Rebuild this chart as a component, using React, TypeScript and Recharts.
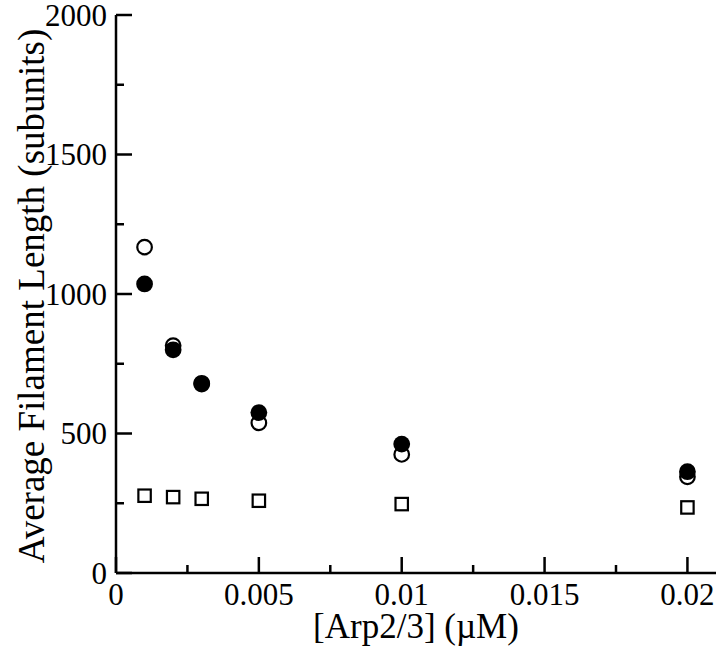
import React from 'react';
import { ScatterChart, Scatter, XAxis, YAxis } from 'recharts';

// [Arp2/3] concentrations (uM)
const arpConc = [0.001, 0.002, 0.003, 0.005, 0.01, 0.02];
// average filament length (subunits)
const openCircleLen = [1168, 815, 680, 538, 425, 345];
const filledCircleLen = [1036, 800, 677, 575, 462, 363];
const squareLen = [277, 272, 266, 259, 247, 235];

const xMajorTicks = [0, 0.005, 0.01, 0.015, 0.02];
const xMinorTicks = [0.0025, 0.0075, 0.0125, 0.0175];
const yMajorTicks = [0, 500, 1000, 1500, 2000];
const yMinorTicks = [250, 750, 1250, 1750];

const xTicks = [...xMajorTicks, ...xMinorTicks].sort((a, b) => a - b);
const yTicks = [...yMajorTicks, ...yMinorTicks].sort((a, b) => a - b);

const FONT = "'Liberation Serif', 'DejaVu Serif', serif";
const TICK_FONT = 31;
const X_TITLE_FONT = 35;
const Y_TITLE_FONT = 37;
const MAJOR = 16;
const MINOR = 8;
const LINE_W = 2.5;

const toPoints = (ys: number[]) => arpConc.map((x, i) => ({ x, y: ys[i] }));
const openData = toPoints(openCircleLen);
const filledData = toPoints(filledCircleLen);
const squareData = toPoints(squareLen);

const isMajor = (v: number, list: number[]) => list.some((m) => Math.abs(m - v) < 1e-9);
const textStyle = { fontFamily: FONT, fill: '#000' };

function makeXTick(side: 'bottom' | 'top') {
  return (props: any) => {
    const { x, y, payload } = props;
    const major = isMajor(payload.value, xMajorTicks);
    const dir = side === 'bottom' ? -1 : 1;
    return (
      <g>
        <line x1={x} x2={x} y1={y} y2={y + dir * (major ? MAJOR : MINOR)} stroke="#000" strokeWidth={LINE_W} />
        {side === 'bottom' && major && (
          <text x={x} y={y + 32} textAnchor="middle" style={{ ...textStyle, fontSize: TICK_FONT }}>
            {String(payload.value)}
          </text>
        )}
      </g>
    );
  };
}

function makeYTick(side: 'left' | 'right') {
  return (props: any) => {
    const { x, y, payload } = props;
    const major = isMajor(payload.value, yMajorTicks);
    const dir = side === 'left' ? 1 : -1;
    return (
      <g>
        <line x1={x} x2={x + dir * (major ? MAJOR : MINOR)} y1={y} y2={y} stroke="#000" strokeWidth={LINE_W} />
        {side === 'left' && major && (
          <text x={x - 9} y={y} dy="0.34em" textAnchor="end" style={{ ...textStyle, fontSize: TICK_FONT }}>
            {String(payload.value)}
          </text>
        )}
      </g>
    );
  };
}

const OpenCircle = (p: any) => (
  <circle cx={p.cx} cy={p.cy} r={7.3} fill="#fff" stroke="#000" strokeWidth={2.2} />
);
const FilledCircle = (p: any) => (
  <circle cx={p.cx} cy={p.cy} r={8.4} fill="#000" />
);
const OpenSquare = (p: any) => (
  <rect x={p.cx - 6.2} y={p.cy - 6.2} width={12.4} height={12.4} fill="#fff" stroke="#000" strokeWidth={2.2} />
);

const axisLine = { stroke: '#000', strokeWidth: LINE_W };

export default function App() {
  return (
    <div style={{ position: 'absolute', left: 0, top: 0, background: '#fff' }}>
      <ScatterChart width={720} height={648} margin={{ top: 15, right: 4, bottom: 0, left: 0 }}>
        <XAxis
          xAxisId="b"
          type="number"
          dataKey="x"
          domain={[0, 0.021]}
          allowDataOverflow
          ticks={xTicks}
          interval={0}
          tickSize={0}
          tickMargin={0}
          tickLine={false}
          axisLine={axisLine}
          tick={makeXTick('bottom')}
          height={75}
          label={{
            content: ({ viewBox }: any) => (
              <text
                x={viewBox.x + viewBox.width / 2}
                y={viewBox.y + 65}
                textAnchor="middle"
                style={{ ...textStyle, fontSize: X_TITLE_FONT }}
              >
                [Arp2/3] (µM)
              </text>
            ),
          }}
        />
        <XAxis
          xAxisId="t"
          orientation="top"
          type="number"
          dataKey="x"
          domain={[0, 0.021]}
          allowDataOverflow
          ticks={xTicks}
          interval={0}
          tickSize={0}
          tickMargin={0}
          tickLine={false}
          axisLine={axisLine}
          tick={makeXTick('top')}
          height={0}
        />
        <YAxis
          yAxisId="l"
          type="number"
          dataKey="y"
          domain={[0, 2000]}
          allowDataOverflow
          ticks={yTicks}
          interval={0}
          tickSize={0}
          tickMargin={0}
          tickLine={false}
          axisLine={axisLine}
          tick={makeYTick('left')}
          width={116}
          label={{
            content: ({ viewBox }: any) => {
              const cx = viewBox.x + 44;
              const cy = viewBox.y + viewBox.height / 2 + 2;
              return (
                <text
                  x={cx}
                  y={cy}
                  transform={`rotate(-90, ${cx}, ${cy})`}
                  textAnchor="middle"
                  style={{ ...textStyle, fontSize: Y_TITLE_FONT }}
                >
                  Average Filament Length (subunits)
                </text>
              );
            },
          }}
        />
        <YAxis
          yAxisId="r"
          orientation="right"
          type="number"
          dataKey="y"
          domain={[0, 2000]}
          allowDataOverflow
          ticks={yTicks}
          interval={0}
          tickSize={0}
          tickMargin={0}
          tickLine={false}
          axisLine={axisLine}
          tick={makeYTick('right')}
          width={0}
        />
        <Scatter xAxisId="b" yAxisId="l" data={squareData} shape={OpenSquare} isAnimationActive={false} />
        <Scatter xAxisId="t" yAxisId="r" data={openData} shape={OpenCircle} isAnimationActive={false} />
        <Scatter xAxisId="b" yAxisId="l" data={filledData} shape={FilledCircle} isAnimationActive={false} />
      </ScatterChart>
    </div>
  );
}
